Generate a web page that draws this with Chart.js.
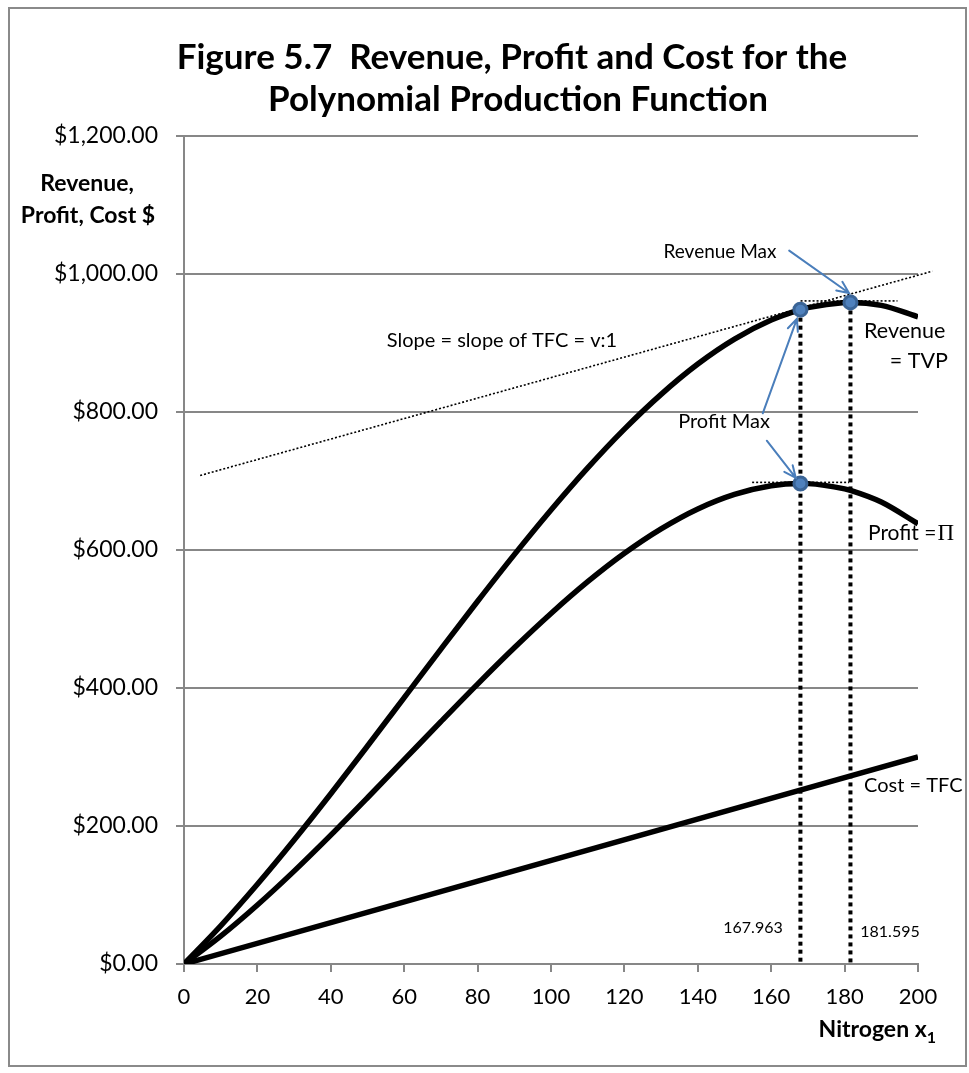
<!DOCTYPE html>
<html>
<head>
<meta charset="utf-8">
<title>Figure 5.7 Revenue, Profit and Cost</title>
<script src="https://cdn.jsdelivr.net/npm/chart.js@4.4.1/dist/chart.umd.min.js"></script>
<style>
  html, body { margin: 0; padding: 0; background: #fff; }
  #wrap { position: relative; width: 969px; height: 1073px; }
</style>
</head>
<body>
<div id="wrap"><canvas id="chart" width="969" height="1073"></canvas></div>
<script>
// values (nitrogen x1 vs dollars)
const nitrogen = [0, 10, 20, 30, 40, 50, 60, 70, 80, 90, 100, 110, 120, 130, 140, 150, 160, 167.963, 170, 180, 181.595, 190, 200];
const revenue  = [0, 55.3, 115.5, 179.6, 246.7, 315.9, 386.1, 456.3, 525.7, 593.3, 658, 719, 775.2, 825.6, 869.5, 905.6, 933.2, 948.3, 951.2, 958.6, 958.8, 954.5, 938];
const profit   = [0, 40.3, 85.5, 134.6, 186.7, 240.9, 296.1, 351.3, 405.7, 458.3, 508, 554, 595.2, 630.6, 659.5, 680.6, 693.2, 696.4, 696.2, 688.6, 686.4, 669.5, 638];
const costX    = [0, 200];
const cost     = [0, 300];

// the two optimum points
const profitMaxX = 167.963;
const revenueMaxX = 181.595;
const markerX = [167.963, 181.595, 167.963];
const markerY = [948.3, 958.8, 696.4];

// dotted tangents
const slopeX = [4.4, 203.9];
const slopeY = [708, 1004];
const revTangentX = [168, 194.4];
const revTangentY = [961, 961];
const profTangentX = [154.8, 181.2];
const profTangentY = [698, 698];

// axes
const xMin = 0, xMax = 200, xStep = 20;
const yMin = 0, yMax = 1200, yStep = 200;

const pts = (xs, ys) => xs.map((x, i) => ({ x: x, y: ys[i] }));

const FONT = 'Lato, "Open Sans", sans-serif';
const GRID = '#878787';
const BLUE = '#4A7EBB';

const lineDs = (data, extra) => Object.assign({
  data: data,
  showLine: true,
  borderColor: '#000',
  backgroundColor: '#000',
  borderWidth: 5.5,
  pointRadius: 0,
  fill: false
}, extra || {});

// arrows, placed in data units
const arrows = [
  { from: [164.9, 1033.8], to: [181.2, 972.5] },
  { from: [157.7, 798.1], to: [167.0, 935] },
  { from: [158.8, 758.4], to: [166.7, 704.5] }
];

const notes = {
  id: 'notes',
  afterDatasetsDraw(chart) {
    const { ctx, scales: { x, y } } = chart;
    ctx.save();

    // blue arrows
    ctx.strokeStyle = BLUE;
    ctx.lineWidth = 2;
    ctx.lineCap = 'round';
    arrows.forEach(a => {
      const x0 = x.getPixelForValue(a.from[0]), y0 = y.getPixelForValue(a.from[1]);
      const x1 = x.getPixelForValue(a.to[0]), y1 = y.getPixelForValue(a.to[1]);
      const ang = Math.atan2(y1 - y0, x1 - x0);
      const h = 13, spread = 0.42;
      ctx.beginPath();
      ctx.moveTo(x0, y0);
      ctx.lineTo(x1, y1);
      ctx.moveTo(x1 - h * Math.cos(ang - spread), y1 - h * Math.sin(ang - spread));
      ctx.lineTo(x1, y1);
      ctx.lineTo(x1 - h * Math.cos(ang + spread), y1 - h * Math.sin(ang + spread));
      ctx.stroke();
    });

    ctx.fillStyle = '#000';
    ctx.textBaseline = 'middle';

    ctx.textAlign = 'center';
    ctx.font = '19px ' + FONT;
    ctx.fillText('Revenue Max', 720, 252);
    ctx.font = '20px ' + FONT;
    ctx.fillText('Slope = slope of TFC = v:1', 502, 341);
    ctx.fillText('Profit Max', 724, 422);

    ctx.font = '16px ' + FONT;
    ctx.fillText('167.963', 753, 928);
    ctx.fillText('181.595', 890, 932);

    ctx.font = '21.5px ' + FONT;
    ctx.textAlign = 'left';
    ctx.fillText('Revenue', 864, 331);
    ctx.textAlign = 'right';
    ctx.fillText('= TVP', 948, 361);
    ctx.font = '20px ' + FONT;
    ctx.textAlign = 'left';
    ctx.fillText('Cost = TFC', 864, 786);
    ctx.font = '21px ' + FONT;
    ctx.fillText('Profit =', 868, 533);
    const w = ctx.measureText('Profit =').width;
    ctx.font = '23px "Liberation Serif", serif';
    ctx.fillText('\u03A0', 868 + w + 1, 534);

    ctx.restore();
  },
  afterDraw(chart) {
    const { ctx } = chart;
    ctx.save();
    // outer frame
    ctx.strokeStyle = '#8a8a8a';
    ctx.lineWidth = 2;
    ctx.strokeRect(9, 8, 957, 1058);

    ctx.fillStyle = '#000';
    ctx.textBaseline = 'middle';
    ctx.textAlign = 'center';
    ctx.font = 'bold 35px ' + FONT;
    ctx.fillText('Figure 5.7  Revenue, Profit and Cost for the', 512, 58);
    ctx.fillText('Polynomial Production Function', 518, 100);

    ctx.font = 'bold 23px ' + FONT;
    ctx.fillText('Revenue,', 87, 184);
    ctx.fillText('Profit, Cost $', 88, 216);

    ctx.textAlign = 'left';
    const xt = 'Nitrogen x';
    ctx.font = 'bold 23px ' + FONT;
    const tw = ctx.measureText(xt).width;
    ctx.font = 'bold 16px ' + FONT;
    const sw = ctx.measureText('1').width;
    const left = 936 - tw - sw;
    ctx.font = 'bold 23px ' + FONT;
    ctx.fillText(xt, left, 1030);
    ctx.font = 'bold 16px ' + FONT;
    ctx.fillText('1', left + tw, 1038);
    ctx.restore();
  }
};

new Chart(document.getElementById('chart').getContext('2d'), {
  type: 'scatter',
  data: {
    datasets: [
      {
        label: 'optimum',
        data: pts(markerX, markerY),
        pointRadius: 6.5,
        pointBackgroundColor: '#4F81BD',
        pointBorderColor: '#3A6496',
        pointBorderWidth: 3,
        showLine: false
      },
      lineDs(pts([profitMaxX, profitMaxX], [markerY[0], 0]), { borderWidth: 4, borderDash: [4, 4], borderCapStyle: 'butt' }),
      lineDs(pts([revenueMaxX, revenueMaxX], [markerY[1], 0]), { borderWidth: 4, borderDash: [4, 4], borderCapStyle: 'butt' }),
      lineDs(pts(revTangentX, revTangentY), { borderWidth: 1.6, borderDash: [2, 2] }),
      lineDs(pts(profTangentX, profTangentY), { borderWidth: 1.6, borderDash: [2, 2] }),
      lineDs(pts(slopeX, slopeY), { borderWidth: 1.6, borderDash: [2, 2], clip: false }),
      lineDs(pts(nitrogen, revenue), { label: 'Revenue = TVP', cubicInterpolationMode: 'monotone' }),
      lineDs(pts(nitrogen, profit), { label: 'Profit', cubicInterpolationMode: 'monotone' }),
      lineDs(pts(costX, cost), { label: 'Cost = TFC' })
    ]
  },
  options: {
    responsive: false,
    animation: false,
    layout: { padding: { top: 136, right: 51, bottom: 0, left: 0 } },
    plugins: {
      legend: { display: false },
      tooltip: { enabled: false },
      title: { display: false }
    },
    scales: {
      x: {
        type: 'linear',
        min: xMin,
        max: xMax,
        ticks: {
          stepSize: xStep,
          color: '#000',
          font: { family: FONT, size: 22 },
          padding: 12,
          maxRotation: 0
        },
        grid: { drawOnChartArea: false, color: GRID, lineWidth: 2, tickLength: 8 },
        border: { color: GRID, width: 2 },
        afterFit: s => { s.height = 109; }
      },
      y: {
        min: yMin,
        max: yMax,
        ticks: {
          stepSize: yStep,
          color: '#000',
          font: { family: FONT, size: 23 },
          padding: 18,
          callback: v => '$' + Number(v).toLocaleString('en-US', { minimumFractionDigits: 2, maximumFractionDigits: 2 })
        },
        grid: { color: GRID, lineWidth: 2, tickLength: 8 },
        border: { color: GRID, width: 2 },
        afterFit: s => { s.width = 184; }
      }
    }
  },
  plugins: [notes]
});
</script>
</body>
</html>
